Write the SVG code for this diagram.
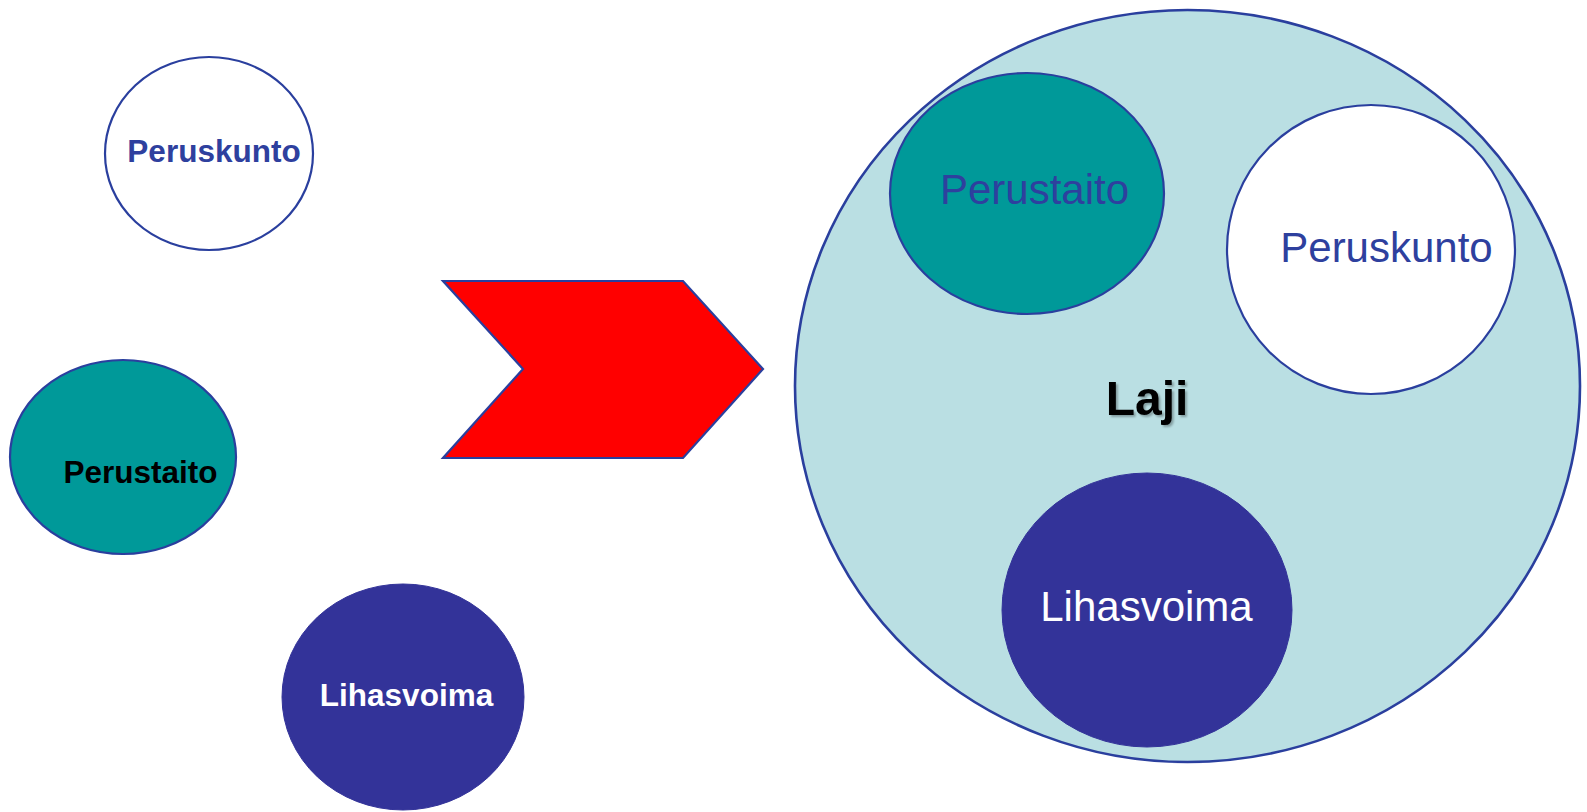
<svg xmlns="http://www.w3.org/2000/svg" width="1587" height="812" viewBox="0 0 1587 812">
<defs>
<style>
.ln{stroke:#2A3F9E;stroke-width:2.2}
.sm{font-family:"Liberation Sans",Arial,sans-serif;font-weight:bold;font-size:31.5px;text-anchor:middle}
.lg{font-family:"Liberation Sans",Arial,sans-serif;font-size:42px;text-anchor:middle}
</style>
<filter id="sh" x="-10%" y="-10%" width="130%" height="130%">
<feGaussianBlur in="SourceAlpha" stdDeviation="1"/>
<feOffset dx="2" dy="2" result="o"/>
<feComponentTransfer><feFuncA type="linear" slope="0.3"/></feComponentTransfer>
<feMerge><feMergeNode/><feMergeNode in="SourceGraphic"/></feMerge>
</filter>
</defs>
<rect width="1587" height="812" fill="#FFFFFF"/>
<g id="left-peruskunto">
<ellipse cx="209" cy="153.5" rx="104" ry="96.5" fill="#FFFFFF" class="ln"/>
<text x="214" y="162" class="sm" fill="#2E409E">Peruskunto</text>
</g>
<g id="left-perustaito">
<ellipse cx="123" cy="457" rx="113" ry="97" fill="#009999" class="ln"/>
<text x="140.5" y="483" class="sm" fill="#000000">Perustaito</text>
</g>
<g id="left-lihasvoima">
<ellipse cx="403" cy="697" rx="121" ry="113" fill="#333399" stroke="#333399" stroke-width="1"/>
<text x="406.5" y="706" class="sm" fill="#FFFFFF">Lihasvoima</text>
</g>
<g id="connectors">
<polygon points="443,281 683,281 763,369 683,458 443,458 523,369" fill="#FF0000" class="ln"/>
</g>
<g id="laji">
<ellipse cx="1187.5" cy="386" rx="392.5" ry="376" fill="#BADFE3" stroke="#2A3F9E" stroke-width="2.6"/>
<text x="1147" y="415" font-family="'Liberation Sans',Arial,sans-serif" font-weight="bold" font-size="48" text-anchor="middle" fill="#000000" filter="url(#sh)">Laji</text>
</g>
<g id="inner-perustaito">
<ellipse cx="1027" cy="193.5" rx="137" ry="120.5" fill="#009999" class="ln"/>
<text x="1034.5" y="204" class="lg" fill="#2E409E">Perustaito</text>
</g>
<g id="inner-peruskunto">
<ellipse cx="1371" cy="249.5" rx="144" ry="144.5" fill="#FFFFFF" class="ln"/>
<text x="1386.5" y="262" class="lg" fill="#2E409E">Peruskunto</text>
</g>
<g id="inner-lihasvoima">
<ellipse cx="1147" cy="610" rx="145" ry="137" fill="#333399" stroke="#333399" stroke-width="1"/>
<text x="1146.5" y="621" class="lg" fill="#FFFFFF">Lihasvoima</text>
</g>
</svg>
